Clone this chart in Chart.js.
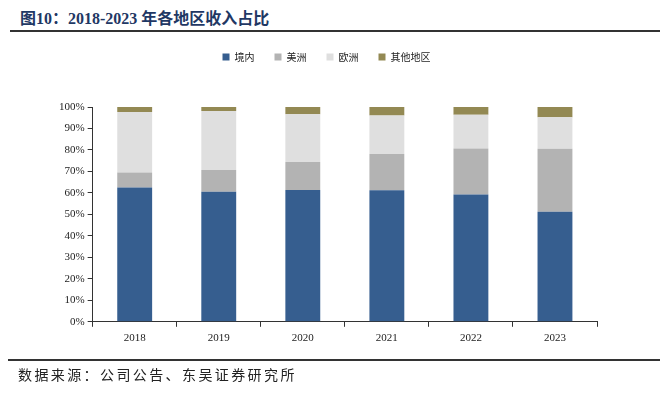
<!DOCTYPE html>
<html>
<head>
<meta charset="utf-8">
<script src="https://cdn.jsdelivr.net/npm/chart.js@4.4.0/dist/chart.umd.min.js"></script>
<style>
    body { margin: 0; background: #fff; }
    #wrap { position: relative; width: 668px; height: 394px; overflow: hidden; }
    #title {
        position: absolute; left: 20px; top: 5px;
        font-family: "Liberation Serif", "Noto Sans CJK SC", serif;
        font-weight: bold; font-size: 16px; color: #1f3864; white-space: nowrap;
    }
    #title .cjk { font-family: "Noto Sans CJK SC", sans-serif; }
    #line-top { position: absolute; left: 10px; top: 30px; width: 650px; height: 2px; background: #333; }
    #line-bottom { position: absolute; left: 8px; top: 359px; width: 652px; height: 2px; background: #333; }
    #source {
        position: absolute; left: 18px; top: 364px;
        font-family: "Noto Sans CJK SC", sans-serif; font-size: 14px; letter-spacing: 2.4px;
        color: #222; white-space: nowrap;
    }
    canvas { position: absolute; left: 0; top: 0; }
</style>
</head>
<body>
<div id="wrap">
    <div id="title"><span class="cjk">图</span>10<span class="cjk">：</span>2018-2023 <span class="cjk">年各地区收入占比</span></div>
    <div id="line-top"></div>
    <canvas id="chart" width="668" height="394"></canvas>
    <div id="line-bottom"></div>
    <div id="source">数据来源：公司公告、东吴证券研究所</div>
</div>
<script>
// Dati (quota % dei ricavi per area)
const YEARS = ['2018', '2019', '2020', '2021', '2022', '2023'];
const DOMESTIC = [62.5, 60.6, 61.4, 61.3, 59.3, 51.2];
const AMERICAS = [7.0, 10.1, 13.0, 16.8, 21.4, 29.4];
const EUROPE = [28.2, 27.4, 22.2, 18.0, 15.7, 14.6];
const OTHER = [2.3, 1.9, 3.4, 3.9, 3.6, 4.8];
const SERIES_NAMES = ['境内', '美洲', '欧洲', '其他地区'];
const COLORS = ['#365e8f', '#b3b3b3', '#dfdfdf', '#938953'];

const TICK_FONT = { family: '"Liberation Serif", serif', size: 11 };

// Allarghiamo la legenda per spingere in basso l'area del grafico
const legendSpacer = {
    id: 'legendSpacer',
    beforeInit(chart) {
        const origFit = chart.legend.fit;
        chart.legend.fit = function () {
            origFit.bind(chart.legend)();
            this.height += 35;
        };
    }
};

const seriesValues = [DOMESTIC, AMERICAS, EUROPE, OTHER];

new Chart(document.getElementById('chart').getContext('2d'), {
    type: 'bar',
    data: {
        labels: YEARS,
        datasets: seriesValues.map((vals, i) => ({
            label: SERIES_NAMES[i],
            data: vals,
            backgroundColor: COLORS[i],
            borderWidth: 0,
            categoryPercentage: 1,
            barPercentage: 0.415
        }))
    },
    options: {
        responsive: false,
        animation: false,
        layout: { padding: { top: 32, left: 56, right: 71, bottom: 44 } },
        scales: {
            x: {
                stacked: true,
                grid: { drawOnChartArea: false, drawTicks: true, tickLength: 5, color: '#333' },
                border: { color: '#333', width: 1 },
                ticks: { font: TICK_FONT, color: '#222', padding: 5 }
            },
            y: {
                stacked: true,
                min: 0,
                max: 100,
                grid: { drawOnChartArea: false, drawTicks: true, tickLength: 5, color: '#333' },
                border: { color: '#333', width: 1 },
                ticks: {
                    stepSize: 10,
                    font: TICK_FONT,
                    color: '#222',
                    padding: 3,
                    callback: v => v + '%'
                }
            }
        },
        plugins: {
            legend: {
                position: 'top',
                labels: {
                    boxWidth: 7,
                    boxHeight: 7,
                    padding: 20,
                    color: '#222',
                    font: { family: '"Noto Sans CJK SC", sans-serif', size: 10 }
                }
            },
            tooltip: { enabled: false }
        }
    },
    plugins: [legendSpacer]
});
</script>
</body>
</html>
